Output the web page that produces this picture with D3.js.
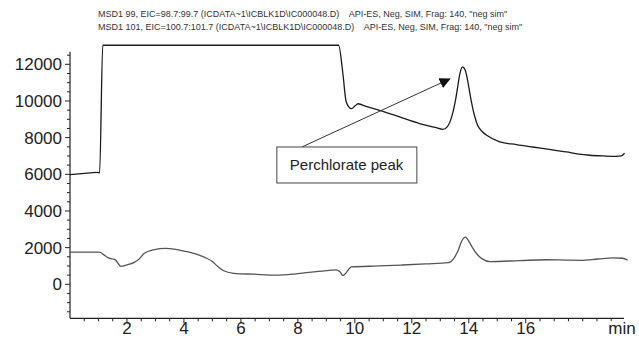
<!DOCTYPE html>
<html>
<head>
<meta charset="utf-8">
<script src="https://cdn.jsdelivr.net/npm/d3@7"></script>
<style>
  html, body { margin: 0; padding: 0; background: #fff; }
  svg { display: block; }
  text { font-family: "Liberation Sans", Arial, sans-serif; }
</style>
</head>
<body>
<svg id="chart" width="639" height="342"></svg>
<script>
// ---- data ----
const headerLines = [
  'MSD1 99, EIC=98.7:99.7 (ICDATA~1\\ICBLK1D\\IC000048.D)    API-ES, Neg, SIM, Frag: 140, "neg sim"',
  'MSD1 101, EIC=100.7:101.7 (ICDATA~1\\ICBLK1D\\IC000048.D)    API-ES, Neg, SIM, Frag: 140, "neg sim"'
];
const xTicks = [2, 4, 6, 8, 10, 12, 14, 16];
const yTicks = [0, 2000, 4000, 6000, 8000, 10000, 12000];
const xUnit = "min";
const annotationText = "Perchlorate peak";

// MSD1 99 trace (time in min, abundance)
const trace99Time = [0.0, 0.41, 0.74, 0.96, 1.04, 1.15, 9.43, 9.58, 9.69, 9.80, 9.88, 10.02, 10.12, 10.40, 10.87, 11.57, 12.27, 12.82, 13.09, 13.25, 13.40, 13.53, 13.61, 13.69, 13.78, 13.87, 13.96, 14.04, 14.13, 14.22, 14.31, 14.46, 14.63, 15.09, 15.67, 16.24, 16.88, 17.43, 17.87, 18.24, 18.74, 19.18, 19.35, 19.47];
const trace99Value = [5980, 6040, 6080, 6100, 6080, 13040, 13040, 11500, 10000, 9650, 9580, 9750, 9850, 9700, 9490, 9130, 8770, 8560, 8450, 8600, 9130, 10000, 10760, 11500, 11860, 11700, 11130, 10400, 9670, 9100, 8670, 8350, 8130, 7770, 7620, 7490, 7350, 7220, 7100, 7040, 7000, 6980, 7000, 7150];

// MSD1 101 trace
const trace101Time = [0.0, 0.52, 1.04, 1.18, 1.35, 1.50, 1.60, 1.79, 2.00, 2.24, 2.44, 2.61, 2.93, 3.36, 3.65, 3.87, 4.25, 4.62, 4.80, 5.00, 5.18, 5.38, 5.75, 6.45, 7.26, 7.87, 8.39, 8.86, 9.33, 9.47, 9.58, 9.69, 9.88, 10.84, 11.64, 12.49, 13.29, 13.47, 13.64, 13.75, 13.88, 14.02, 14.13, 14.29, 14.46, 14.74, 15.78, 16.69, 17.43, 17.95, 18.53, 19.07, 19.40, 19.58];
const trace101Value = [1760, 1760, 1750, 1620, 1440, 1380, 1320, 980, 1060, 1180, 1400, 1690, 1880, 1960, 1920, 1850, 1730, 1540, 1420, 1240, 980, 750, 600, 550, 500, 560, 650, 720, 790, 700, 480, 620, 950, 1000, 1050, 1110, 1180, 1400, 1900, 2350, 2570, 2300, 2000, 1640, 1400, 1240, 1290, 1340, 1320, 1310, 1380, 1440, 1420, 1310];

// annotation: arrow from box corner (time, value) to peak (time, value)
const arrowStart = [8.14, 7490];
const arrowTip = [13.33, 11200];

// ---- layout ----
const svg = d3.select("#chart");
const x = d3.scaleLinear().domain([0, 19.45]).range([70, 624]);
const y = d3.scaleLinear().domain([-1855, 12688]).range([318.3, 51.7]);

const ink = "#222";

// header
svg.selectAll("text.header").data(headerLines).join("text")
  .attr("class", "header")
  .attr("x", 98).attr("y", (d, i) => 16.5 + i * 13)
  .attr("font-size", 9).attr("fill", "#333")
  .attr("xml:space", "preserve")
  .style("white-space", "pre")
  .text(d => d);

// axes
const xAxis = svg.append("g").attr("transform", `translate(0,${y.range()[0]})`);
xAxis.append("line").attr("x1", x.range()[0]).attr("x2", x.range()[1])
  .attr("y1", 0).attr("y2", 0).attr("stroke", ink).attr("stroke-width", 1.2);
const xMinor = d3.range(0.5, 19.4, 0.5).filter(v => !xTicks.includes(v));
xAxis.selectAll("line.minor").data(xMinor).join("line").attr("class", "minor")
  .attr("x1", d => x(d)).attr("x2", d => x(d)).attr("y1", 0).attr("y2", 3)
  .attr("stroke", ink).attr("stroke-width", 1);
xAxis.selectAll("line.major").data(xTicks).join("line").attr("class", "major")
  .attr("x1", d => x(d)).attr("x2", d => x(d)).attr("y1", 0).attr("y2", 5)
  .attr("stroke", ink).attr("stroke-width", 1);
xAxis.selectAll("text.tl").data(xTicks).join("text").attr("class", "tl")
  .attr("x", d => x(d)).attr("y", 16).attr("text-anchor", "middle")
  .attr("font-size", 17).attr("fill", ink).text(d => d);
xAxis.append("text").attr("x", 622).attr("y", 16).attr("text-anchor", "middle")
  .attr("font-size", 17).attr("fill", ink).text(xUnit);

const yAxis = svg.append("g").attr("transform", `translate(${x.range()[0]},0)`);
yAxis.append("line").attr("x1", 0).attr("x2", 0)
  .attr("y1", y.range()[0]).attr("y2", y.range()[1]).attr("stroke", ink).attr("stroke-width", 1.2);
const yMinor = d3.range(-1500, 12700, 500).filter(v => !yTicks.includes(v));
yAxis.selectAll("line.minor").data(yMinor).join("line").attr("class", "minor")
  .attr("x1", -3).attr("x2", 0).attr("y1", d => y(d)).attr("y2", d => y(d))
  .attr("stroke", ink).attr("stroke-width", 1);
yAxis.selectAll("line.major").data(yTicks).join("line").attr("class", "major")
  .attr("x1", -5).attr("x2", 0).attr("y1", d => y(d)).attr("y2", d => y(d))
  .attr("stroke", ink).attr("stroke-width", 1);
yAxis.selectAll("text").data(yTicks).join("text")
  .attr("x", -8).attr("y", d => y(d)).attr("dy", "0.36em").attr("text-anchor", "end")
  .attr("font-size", 17).attr("fill", ink).text(d => d);

// traces
const line = d3.line().x(d => x(d[0])).y(d => y(d[1])).curve(d3.curveMonotoneX);
svg.append("path").datum(d3.zip(trace101Time, trace101Value))
  .attr("d", line).attr("fill", "none").attr("stroke", "#555").attr("stroke-width", 1.3);
svg.append("path").datum(d3.zip(trace99Time, trace99Value))
  .attr("d", line).attr("fill", "none").attr("stroke", "#1a1a1a").attr("stroke-width", 1.3);

// annotation
const defs = svg.append("defs");
defs.append("marker").attr("id", "arrow").attr("viewBox", "0 0 10 10")
  .attr("refX", 9).attr("refY", 5).attr("markerWidth", 11).attr("markerHeight", 11)
  .attr("markerUnits", "userSpaceOnUse").attr("orient", "auto")
  .append("path").attr("d", "M0,0 L10,5 L0,10 Z").attr("fill", "#111");
svg.append("line")
  .attr("x1", x(arrowStart[0])).attr("y1", y(arrowStart[1]))
  .attr("x2", x(arrowTip[0])).attr("y2", y(arrowTip[1]))
  .attr("stroke", "#333").attr("stroke-width", 1).attr("marker-end", "url(#arrow)");
const boxX = x(arrowStart[0]) - 25, boxY = y(arrowStart[1]);
const box = svg.append("g");
box.append("rect").attr("x", boxX).attr("y", boxY).attr("width", 140).attr("height", 36)
  .attr("fill", "#fff").attr("stroke", "#444").attr("stroke-width", 1);
box.append("text").attr("x", boxX + 13).attr("y", boxY + 23)
  .attr("font-size", 15).attr("fill", ink).text(annotationText);
</script>
</body>
</html>
